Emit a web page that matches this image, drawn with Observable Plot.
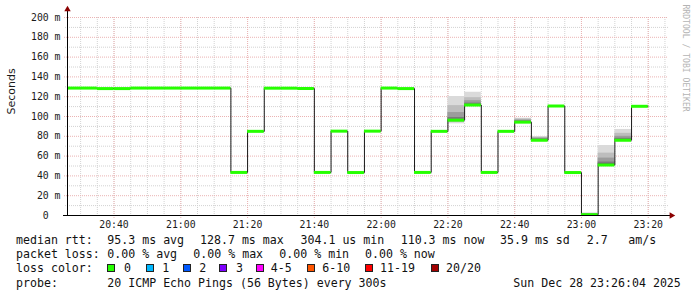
<!DOCTYPE html>
<html>
<head>
<meta charset="utf-8">
<script src="https://cdn.jsdelivr.net/npm/d3@7"></script>
<script src="https://cdn.jsdelivr.net/npm/@observablehq/plot@0.6"></script>
<style>
  html, body { margin: 0; padding: 0; background: #fff; }
  #wrap { position: relative; width: 697px; height: 297px; background: #fff; overflow: hidden; }
  #chart svg { display: block; }
  #chart [aria-label*="axis"] text { font-family: "DejaVu Sans Mono", monospace; font-size: 9.8px; fill: #1a1a1a; }
  #legend { position: absolute; left: 0; top: 233px; width: 697px; height: 64px;
            font-family: "DejaVu Sans Mono", monospace; font-size: 11.6px; color: #111; }
  #legend span.t { position: absolute; white-space: pre; line-height: 14px; }
  #legend span.b { position: absolute; width: 8px; height: 8px; box-sizing: border-box; border: 1px solid #222; }
</style>
</head>
<body>
<div id="wrap">
  <div id="chart"></div>
  <div id="legend"></div>
</div>
<script>
// ---------- data ----------
const intervalStarts = ["20:25","20:30","20:35","20:40","20:45","20:50","20:55","21:00","21:05","21:10",
  "21:15","21:20","21:25","21:30","21:35","21:40","21:45","21:50","21:55","22:00",
  "22:05","22:10","22:15","22:20","22:25","22:30","22:35","22:40","22:45","22:50",
  "22:55","23:00","23:05","23:10","23:15"];
const medianMs = [128.7,128.7,128.2,128.2,128.7,128.7,128.7,128.7,128.7,128.7,
  43.5,85,128.6,128.6,128.3,43.5,85.2,43.4,85.2,128.7,
  128.2,43.5,85,96.3,111.6,43.5,85,94.3,76,110.6,
  43.4,0.8,51,76,110.3];

const smokeStarts = ["22:20","22:25","22:40","22:45","23:00","23:05","23:10"];
const smokePings = [
  [92.6, 94, 95, 95.5, 96, 96.6, 99, 104, 111, 120.2],
  [110.8, 111, 111.2, 111.4, 111.6, 112, 113.5, 116, 119, 124.5],
  [93.8, 94, 94.1, 94.2, 94.3, 94.6, 95.5, 96.5, 97.5, 98.3],
  [75.6, 75.8, 75.9, 76, 76.1, 76.5, 77.3, 78.2, 79, 79.8],
  [0.5, 0.6, 0.7, 0.75, 0.8, 1, 1.3, 1.7, 2.1, 2.5],
  [50.5, 50.7, 50.8, 50.9, 51, 52, 54, 58, 63, 70.7],
  [75.5, 75.7, 75.8, 75.9, 76, 76.8, 78, 80, 83, 86.9]
];

const xTickLabels = ["20:40","21:00","21:20","21:40","22:00","22:20","22:40","23:00","23:20"];
const yTickValues = [0,20,40,60,80,100,120,140,160,180,200];
const yMinorValues = [10,30,50,70,90,110,130,150,170,190];

const statsRow1 = [["median rtt:",16],["95.3 ms avg",107.3],["128.7 ms max",200],["304.1 us min",300.5],
  ["110.3 ms now",400.7],["35.9 ms sd",500],["2.7",586.7],["am/s",628.3]];
const statsRow2 = [["packet loss:",16],["0.00 % avg",107.3],["0.00 % max",193.3],["0.00 % min",279.3],["0.00 % now",365]];
const lossLabels = ["0","1","2","3","4-5","6-10","11-19","20/20"];
const lossColors = ["#26ff00","#00b8ff","#0059ff","#7e00ff","#ff00ff","#ff5500","#ff0000","#a10000"];
const lossBoxX  = [107.3,145.7,182.7,219,256,306.7,365,430.7];
const lossTextX = [124,162.3,199.3,236,270.7,322.3,380,446];
const probeRow = [["probe:",16],["20 ICMP Echo Pings (56 Bytes) every 300s",107.3],["Sun Dec 28 23:26:04 2025",513.3]];

// ---------- build ----------
const t = s => { const [h, m] = s.split(":").map(Number); return new Date(Date.UTC(2025, 11, 28, h, m)); };
const STEP = 300000;
const xStart = new Date(Date.UTC(2025, 11, 28, 20, 26, 4));
const xEnd = new Date(Date.UTC(2025, 11, 28, 23, 26, 4));

const rows = intervalStarts.map((s, i) => ({start: t(s), end: new Date(t(s).getTime() + STEP), med: medianMs[i]}));
const linePts = rows.map(r => ({time: r.start, med: r.med}));
linePts.push({time: rows[rows.length - 1].end, med: rows[rows.length - 1].med});

const shades = ["#dadada", "#bdbdbd", "#9c9c9c", "#7a7a7a", "#585858"];
const smokeRows = [];
smokeStarts.forEach((s, k) => {
  const p = smokePings[k].slice().sort((a, b) => a - b);
  const n = p.length;
  for (let i = 0; i < n / 2; i++) {
    smokeRows.push({start: t(s), end: new Date(t(s).getTime() + STEP), lo: p[i], hi: p[n - 1 - i], level: i});
  }
});

const majorTimes = xTickLabels.map(t);
const minorTimes = d3.utcMinute.every(5).range(xStart, xEnd);

const chart = Plot.plot({
  width: 697,
  height: 233,
  marginLeft: 67,
  marginRight: 29,
  marginTop: 17,
  marginBottom: 18,
  style: {fontFamily: "DejaVu Sans Mono", fontSize: "9.8px", background: "#fff", overflow: "visible", color: "#1a1a1a"},
  x: {type: "utc", domain: [xStart, xEnd], ticks: majorTimes, tickFormat: d3.utcFormat("%H:%M"), tickSize: 0, tickPadding: 6, label: null},
  y: {domain: [0, 200], ticks: yTickValues, tickFormat: d => d === 0 ? "0\u00a0\u00a0" : d + " m", tickSize: 0, tickPadding: 7, label: null},
  color: {type: "identity"},
  marks: [
    Plot.ruleX(minorTimes, {stroke: "#d2d2d2", strokeDasharray: "1,1", insetBottom: -2}),
    Plot.ruleY(yMinorValues, {stroke: "#d2d2d2", strokeDasharray: "1,1", insetLeft: -2}),
    Plot.ruleY(yTickValues.filter(d => d > 0), {stroke: "#ebb3b3", strokeDasharray: "1,1", insetLeft: -3}),
    Plot.ruleX(majorTimes, {stroke: "#ebb3b3", strokeDasharray: "1,1", insetBottom: -4}),
    Plot.rect(smokeRows, {x1: "start", x2: "end", y1: "lo", y2: "hi", fill: d => shades[d.level], clip: true}),
    Plot.line(linePts, {x: "time", y: "med", curve: "step-after", stroke: "#1a1a1a", strokeWidth: 1, clip: true}),
    Plot.ruleY(rows, {y: "med", x1: "start", x2: "end", stroke: lossColors[0], strokeWidth: 3, clip: true}),
    Plot.ruleY([0], {stroke: "#000", insetLeft: -4, insetRight: -3}),
    Plot.ruleX([xStart], {stroke: "#000", insetTop: -8}),
    Plot.dot([xEnd], {x: d => d, y: () => 0, symbol: "triangle", rotate: 90, r: 2.4, fill: "#8b0000", stroke: "none", dx: 3}),
    Plot.dot([xStart], {x: d => d, y: () => 200, symbol: "triangle", r: 2.4, fill: "#8b0000", stroke: "none", dy: -8}),
    Plot.text(["Seconds"], {frameAnchor: "left", text: d => d, rotate: -90, dx: -56, dy: -2, fontFamily: "DejaVu Sans", fontSize: 11, fill: "#1a1a1a"}),
    Plot.text(["RRDTOOL / TOBI OETIKER"], {frameAnchor: "top-right", text: d => d, rotate: 90, textAnchor: "start", dx: 20, dy: -13, fontFamily: "DejaVu Sans Mono", fontSize: 8.1, fill: "#b4b4b4"})
  ]
});
document.getElementById("chart").appendChild(chart);

// ---------- legend text below the SVG ----------
const legend = document.getElementById("legend");
const rowTops = [0.3, 14.3, 28.3, 42.5];
function addText(txt, x, top) {
  const s = document.createElement("span");
  s.className = "t"; s.textContent = txt; s.style.left = x + "px"; s.style.top = top + "px";
  legend.appendChild(s);
}
statsRow1.forEach(([txt, x]) => addText(txt, x, rowTops[0]));
statsRow2.forEach(([txt, x]) => addText(txt, x, rowTops[1]));
addText("loss color:", 16, rowTops[2]);
lossLabels.forEach((lab, i) => {
  const b = document.createElement("span");
  b.className = "b"; b.style.left = lossBoxX[i] + "px"; b.style.top = (rowTops[2] + 3) + "px";
  b.style.background = lossColors[i];
  legend.appendChild(b);
  addText(lab, lossTextX[i], rowTops[2]);
});
probeRow.forEach(([txt, x]) => addText(txt, x, rowTops[3]));
</script>
</body>
</html>
